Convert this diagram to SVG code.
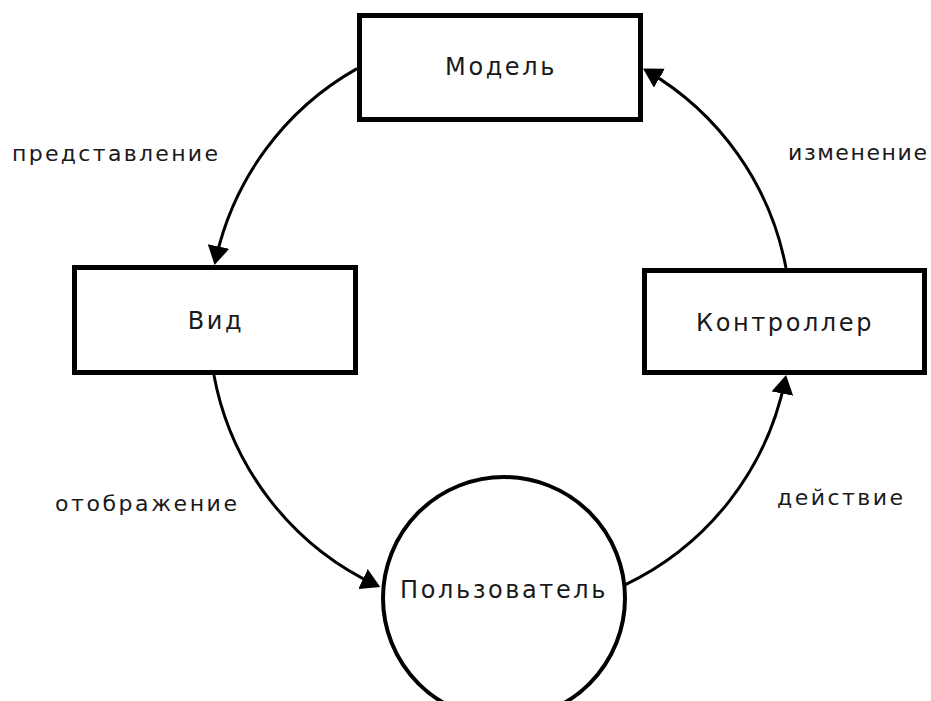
<svg xmlns="http://www.w3.org/2000/svg" width="931" height="701" viewBox="0 0 931 701">
<style>
.box{fill:#fff;stroke:#000;stroke-width:5}
.ell{fill:#fff;stroke:#000;stroke-width:4}
.nt{font-family:"DejaVu Sans",sans-serif;font-size:24px;letter-spacing:2.6px;fill:#1a1a1a}
.lt{font-family:"DejaVu Sans",sans-serif;font-size:22px;fill:#1a1a1a}
.con{fill:none;stroke:#000;stroke-width:3}
</style>
<defs>
<marker id="ah" viewBox="0 0 19 22" refX="15" refY="11" markerWidth="19" markerHeight="22" markerUnits="userSpaceOnUse" orient="auto">
<path d="M0,0 L19,11 L0,22 z" fill="#000"/>
</marker>
</defs>
<rect width="931" height="701" fill="#fff"/>
<g id="connectors">
<path class="con" d="M357,68.6 A291,291 0 0 0 215.4,261.1" marker-end="url(#ah)"/>
<path class="con" d="M213.9,375 A291,291 0 0 0 376.6,585.4" marker-end="url(#ah)"/>
<path class="con" d="M625,584.8 A291,291 0 0 0 785.3,378.9" marker-end="url(#ah)"/>
<path class="con" d="M786,268 A291,291 0 0 0 646.5,70.6" marker-end="url(#ah)"/>
</g>
<g id="model">
<rect class="box" x="359.5" y="15.5" width="281" height="104"/>
<text class="nt" x="501" y="75" text-anchor="middle">Модель</text>
</g>
<g id="view">
<rect class="box" x="74.5" y="267.5" width="281" height="105"/>
<text class="nt" x="216" y="329" text-anchor="middle">Вид</text>
</g>
<g id="controller">
<rect class="box" x="644.5" y="270.5" width="280" height="102"/>
<text class="nt" x="785" y="331" text-anchor="middle">Контроллер</text>
</g>
<g id="user">
<circle class="ell" cx="504" cy="598" r="121"/>
<text class="nt" x="504" y="598" text-anchor="middle">Пользователь</text>
</g>
<g id="labels">
<text class="lt" x="12" y="161" textLength="206" lengthAdjust="spacing">представление</text>
<text class="lt" x="788" y="160" textLength="139" lengthAdjust="spacing">изменение</text>
<text class="lt" x="55" y="511" textLength="182" lengthAdjust="spacing">отображение</text>
<text class="lt" x="777" y="505" textLength="126" lengthAdjust="spacing">действие</text>
</g>
</svg>
